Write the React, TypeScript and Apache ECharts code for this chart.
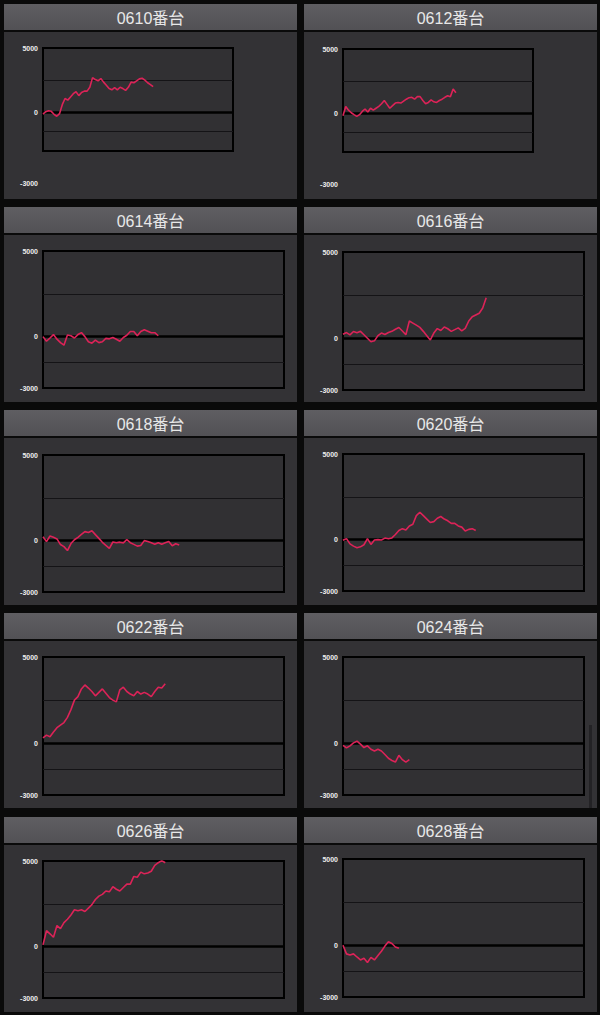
import React, { useEffect, useRef } from "react";
import * as echarts from "echarts";

// ---------- data ----------
const TITLES = ["0610番台", "0612番台", "0614番台", "0616番台", "0618番台", "0620番台", "0622番台", "0624番台", "0626番台", "0628番台"];

const SLOT_COUNT = 70;
const SLOTS = Array.from({ length: SLOT_COUNT }, (_, i) => String(i + 1));

const Y_MIN = -3000;
const Y_MAX = 5000;
const Y_LABELS = [5000, 0, -3000];
const GUIDE_LINES = [2500, -1500];

const S0610 = [-130, 50, 130, 80, -150, -300, -100, 600, 1080, 950, 1200, 1450, 1600, 1300, 1550, 1650, 1650, 1950, 2700, 2550, 2450, 2630, 2350, 2100, 1850, 1750, 1920, 1750, 1950, 1850, 1710, 1950, 2350, 2300, 2450, 2600, 2650, 2500, 2300, 2150, 2000];
const S0612 = [-180, 530, 250, 50, -100, -230, -100, 150, 340, 100, 400, 250, 400, 550, 750, 1000, 700, 400, 600, 800, 850, 800, 950, 1100, 1220, 1250, 1100, 1300, 1300, 1000, 750, 850, 1050, 900, 850, 1000, 1100, 1250, 1370, 1300, 1900, 1600];
const S0614 = [0, -270, -80, 120, -150, -350, -500, 100, 50, -80, 120, 235, 0, -300, -380, -200, -350, -300, -100, -130, -50, -150, -270, -50, 80, 300, 300, 50, 300, 400, 320, 230, 230, 50];
const S0616 = [235, 330, 200, 390, 320, 400, 200, 0, -200, -150, 150, 300, 220, 330, 400, 520, 620, 420, 200, 1000, 880, 760, 630, 400, 150, -100, 300, 560, 450, 650, 550, 400, 500, 600, 430, 570, 1000, 1250, 1350, 1450, 1750, 2350];
const S0618 = [230, -60, 270, 200, 100, -230, -350, -580, -170, 50, 195, 360, 525, 470, 580, 350, 130, -100, -280, -450, -80, -120, -90, -130, 60, -120, -220, -320, -280, 0, -50, -130, -210, -120, -210, -130, -50, -300, -180, -250];
const S0620 = [-40, 60, -250, -380, -470, -420, -300, 60, -280, -20, 0, -20, 90, 50, 100, 300, 530, 640, 560, 800, 900, 1400, 1600, 1400, 1200, 1000, 1050, 1250, 1350, 1200, 1100, 950, 950, 800, 730, 500, 600, 640, 530];
const S0622 = [310, 470, 380, 650, 900, 1050, 1200, 1500, 1950, 2500, 2700, 3150, 3380, 3200, 3000, 2750, 2950, 3150, 2900, 2650, 2500, 2400, 3100, 3250, 3000, 2850, 2750, 3000, 2850, 2950, 2850, 2700, 3000, 3250, 3200, 3450];
const S0624 = [-120, -270, -150, 20, 120, -50, -250, -150, -350, -450, -350, -450, -650, -870, -1000, -1090, -700, -950, -1100, -950];
const S0626 = [100, 930, 750, 550, 1230, 1050, 1400, 1600, 1850, 2150, 2100, 2150, 2050, 2250, 2450, 2750, 2950, 3050, 3250, 3200, 3500, 3350, 3250, 3450, 3650, 3650, 4100, 4050, 4350, 4250, 4300, 4400, 4750, 4900, 5020, 4900];
const S0628 = [0, -500, -570, -500, -680, -850, -750, -1000, -700, -850, -600, -350, -50, 200, 100, -100, -180];

const SERIES_DATA = [S0610, S0612, S0614, S0616, S0618, S0620, S0622, S0624, S0626, S0628];

// ---------- layout ----------
const COL_X = [4, 304];
const PANEL_W = 293;
const ROW_TOP = [4, 207, 410, 613, 817];
const HEADER_H = 26;
const ROW_BOTTOM = [199, 402, 605, 808, 1012];

const PLOTS = [
  { left: 43, top: 48, width: 190, height: 103 },
  { left: 343, top: 49, width: 190, height: 103 },
  { left: 43, top: 251, width: 241, height: 137 },
  { left: 343, top: 252, width: 241, height: 138 },
  { left: 43, top: 455, width: 241, height: 137 },
  { left: 343, top: 454, width: 241, height: 137 },
  { left: 43, top: 657, width: 241, height: 138 },
  { left: 343, top: 657, width: 241, height: 138 },
  { left: 43, top: 861, width: 241, height: 137 },
  { left: 343, top: 859, width: 241, height: 138 },
];

const LINE_COLOR = "#dc2358";
const LABEL_COLOR = "#eeeeee";
const TITLE_FONT = '16px "Liberation Sans", "Noto Sans CJK JP", sans-serif';
const LABEL_FONT = 'bold 7px "Liberation Sans", sans-serif';

export default function App() {
  const ref = useRef<HTMLDivElement>(null);

  useEffect(() => {
    if (!ref.current) return;
    const chart = echarts.init(ref.current, undefined, { renderer: "svg" });

    const graphics: any[] = [];
    for (let r = 0; r < ROW_TOP.length; r++) {
      for (let c = 0; c < 2; c++) {
        const idx = r * 2 + c;
        const x = COL_X[c];
        const top = ROW_TOP[r];
        graphics.push({
          type: "rect",
          z: -10,
          shape: { x, y: top + HEADER_H + 2, width: PANEL_W, height: ROW_BOTTOM[r] - (top + HEADER_H + 2) },
          style: { fill: "#333235" },
          silent: true,
        });
        graphics.push({
          type: "rect",
          z: -10,
          shape: { x, y: top, width: PANEL_W, height: HEADER_H },
          style: {
            fill: new echarts.graphic.LinearGradient(0, 0, 0, 1, [
              { offset: 0, color: "#5f5e62" },
              { offset: 1, color: "#525155" },
            ]),
          },
          silent: true,
        });
        graphics.push({
          type: "text",
          z: 10,
          x: x + PANEL_W / 2,
          y: top + HEADER_H / 2 + 1,
          style: {
            text: TITLES[idx],
            fill: "#e8e8e8",
            font: TITLE_FONT,
            align: "center",
            verticalAlign: "middle",
          },
          silent: true,
        });
      }
    }
    // row-1 bottom labels sit below the squashed plot box
    graphics.push({
      type: "text", z: 10, x: 38, y: 183,
      style: { text: String(Y_MIN), fill: LABEL_COLOR, font: LABEL_FONT, align: "right", verticalAlign: "middle" },
    });
    graphics.push({
      type: "text", z: 10, x: 338, y: 184,
      style: { text: String(Y_MIN), fill: LABEL_COLOR, font: LABEL_FONT, align: "right", verticalAlign: "middle" },
    });
    // scrollbar remnant in the 0624 panel
    graphics.push({
      type: "rect", z: -5,
      shape: { x: 589, y: 725, width: 3, height: 83 },
      style: { fill: "#232225" },
      silent: true,
    });

    const grids = PLOTS.map((p) => ({
      left: p.left,
      top: p.top,
      width: p.width,
      height: p.height,
      show: true,
      backgroundColor: "#313033",
      borderColor: "#000",
      borderWidth: 2,
      z: 1,
    }));

    const xAxes = PLOTS.map((_, i) => ({
      type: "category",
      gridIndex: i,
      data: SLOTS,
      boundaryGap: false,
      show: false,
    }));

    const yAxes = PLOTS.map((_, i) => ({
      type: "value",
      gridIndex: i,
      min: Y_MIN,
      max: Y_MAX,
      interval: 1000,
      axisLine: { show: false },
      axisTick: { show: false },
      splitLine: { show: false },
      axisLabel: {
        margin: 5,
        color: LABEL_COLOR,
        fontSize: 7,
        fontWeight: "bold",
        fontFamily: '"Liberation Sans", sans-serif',
        formatter: (v: number) => {
          if (i < 2 && v === Y_MIN) return "";
          return Y_LABELS.includes(v) ? String(v) : "";
        },
      },
    }));

    const series = SERIES_DATA.map((d, i) => ({
      type: "line",
      name: TITLES[i],
      xAxisIndex: i,
      yAxisIndex: i,
      data: d,
      symbol: "none",
      smooth: false,
      z: 5,
      lineStyle: { color: LINE_COLOR, width: 1.6 },
      markLine: {
        silent: true,
        symbol: "none",
        label: { show: false },
        z: 3,
        data: [
          ...GUIDE_LINES.map((g) => ({ yAxis: g, lineStyle: { color: "#141316", width: 1.2, type: "solid" } })),
          { yAxis: 0, lineStyle: { color: "#000", width: 2.5, type: "solid" } },
        ],
      },
    }));

    chart.setOption({
      animation: false,
      backgroundColor: "#0a0a0a",
      graphic: { elements: graphics },
      grid: grids,
      xAxis: xAxes,
      yAxis: yAxes,
      series,
    });

    return () => chart.dispose();
  }, []);

  return (
    <div
      ref={ref}
      style={{ position: "fixed", left: 0, top: 0, width: 600, height: 1015 }}
    />
  );
}
